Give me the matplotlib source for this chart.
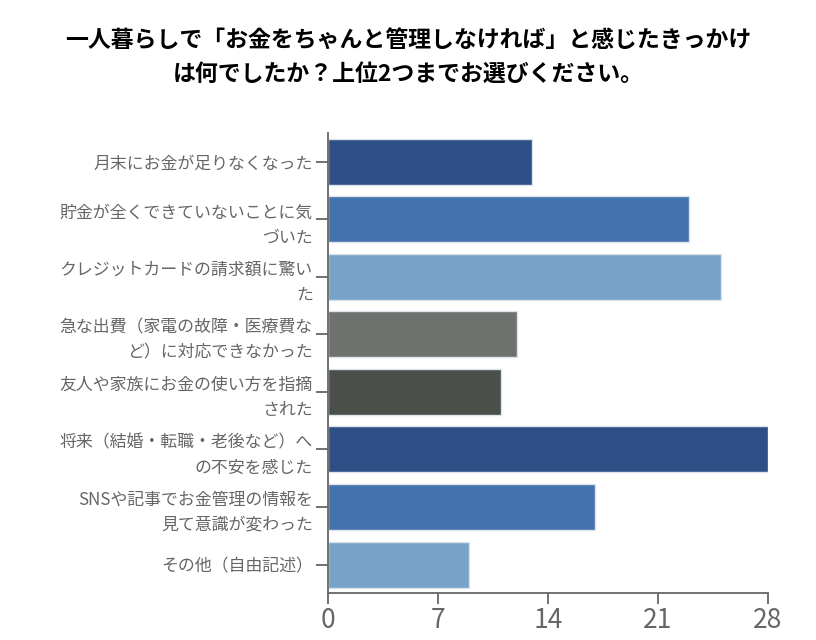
import matplotlib
matplotlib.use("Agg")
import matplotlib.pyplot as plt

plt.rcParams['font.family'] = ['Noto Sans CJK JP', 'DejaVu Sans']

labels = [
    "月末にお金が足りなくなった",
    "貯金が全くできていないことに気\nづいた",
    "クレジットカードの請求額に驚い\nた",
    "急な出費（家電の故障・医療費な\nど）に対応できなかった",
    "友人や家族にお金の使い方を指摘\nされた",
    "将来（結婚・転職・老後など）へ\nの不安を感じた",
    "SNSや記事でお金管理の情報を\n見て意識が変わった",
    "その他（自由記述）",
]
values = [13, 23, 25, 12, 11, 28, 17, 9]
colors = ["#2E4F86", "#4472AC", "#77A3C8", "#6E726E", "#4A5049",
          "#2E4F86", "#4472AC", "#77A3C8"]
xticks = [0, 7, 14, 21, 28]

title = ("一人暮らしで「お金をちゃんと管理しなければ」と感じたきっかけ\n"
         "は何でしたか？上位2つまでお選びください。")

fig = plt.figure(figsize=(8.16, 6.4), dpi=100)
ax = fig.add_axes([0.402, 0.073, 0.539, 0.719])

pos = range(len(values))
ax.barh(pos, values, height=0.8, color=colors, edgecolor="#dde3ea", linewidth=1)
ax.set_ylim(len(values) - 0.5, -0.5)
ax.set_xlim(0, 28)
ax.set_yticks(list(pos))
ax.set_yticklabels(labels, fontsize=12.2, color="#666666", linespacing=1.5)
ax.set_xticks(xticks)
ax.set_xticklabels([str(t) for t in xticks], fontsize=19, color="#666666")

for s in ["top", "right"]:
    ax.spines[s].set_visible(False)
for s in ["left", "bottom"]:
    ax.spines[s].set_color("#666666")
    ax.spines[s].set_linewidth(1.3)
ax.tick_params(axis="y", length=9, width=1.3, color="#666666", pad=2)
ax.tick_params(axis="x", length=8, width=1.3, color="#666666", pad=2)

fig.text(0.5, 0.91, title, ha="center", va="center", fontsize=16.5,
         fontweight="bold", color="#000000", linespacing=1.6)

fig.savefig("out.png", dpi=100)
